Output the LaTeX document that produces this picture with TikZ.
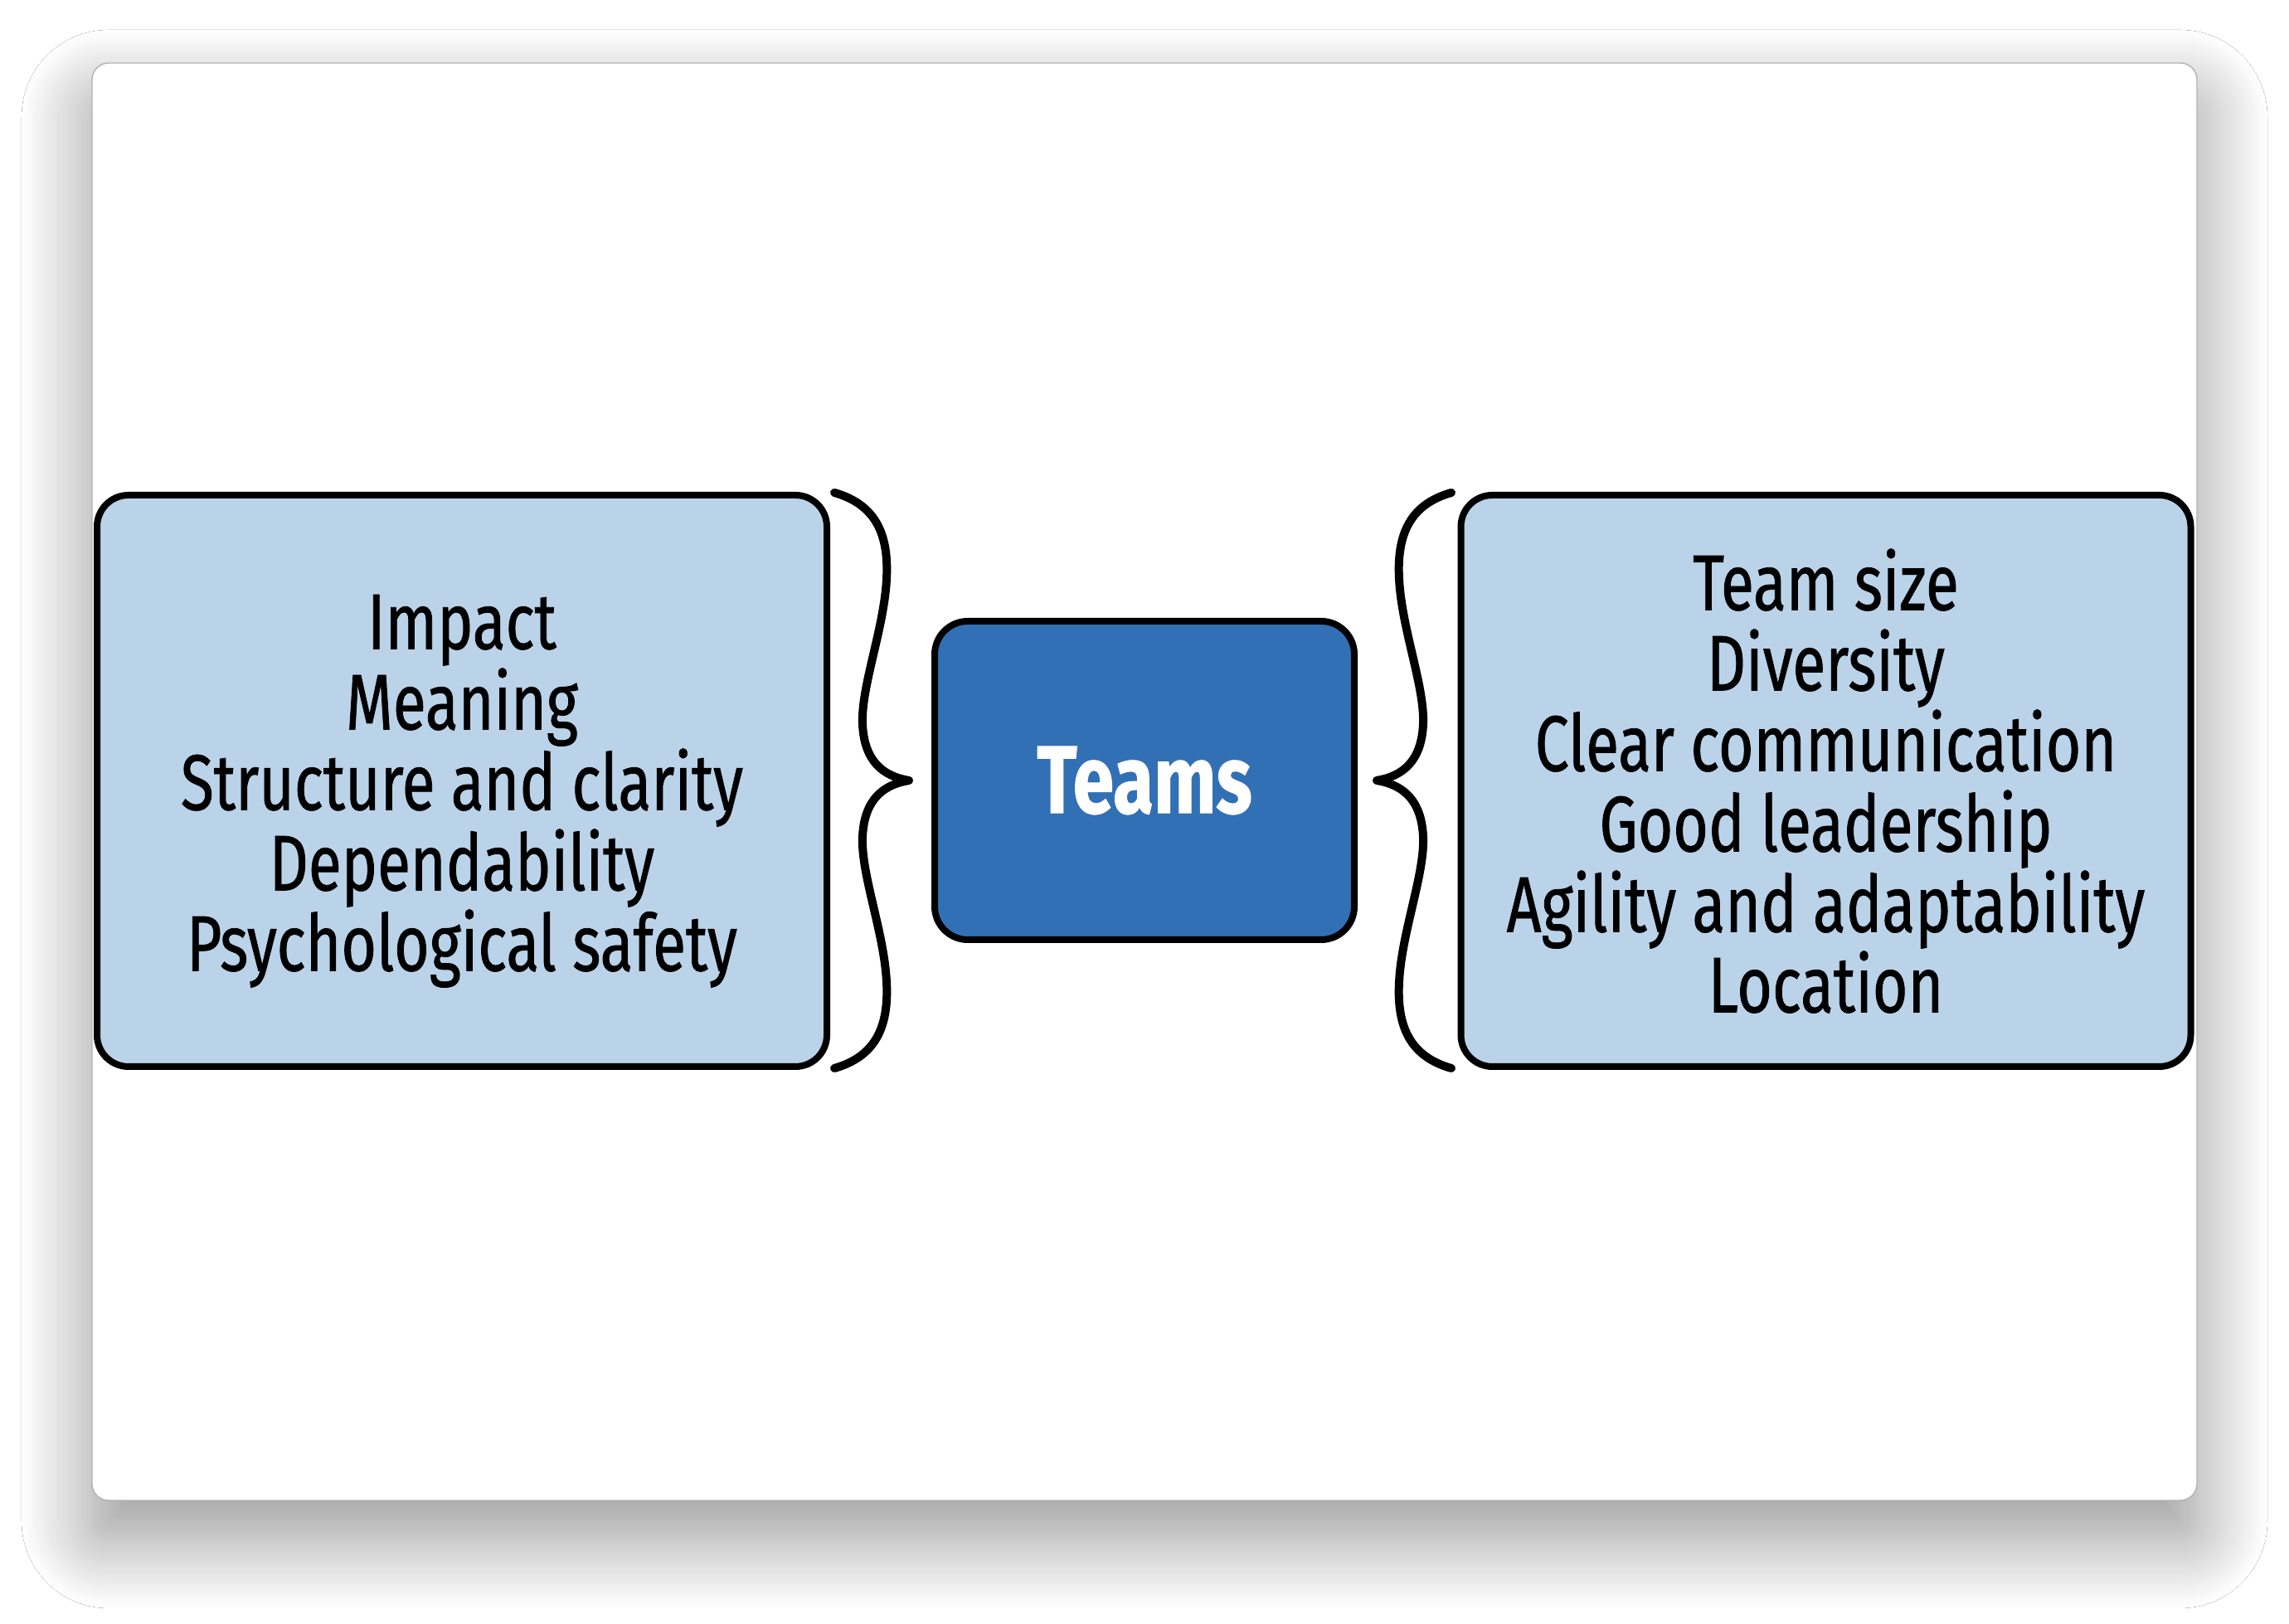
\documentclass[tikz,border=0pt]{standalone}
\usepackage{fontspec}
\setmainfont{Fira Sans}[FakeStretch=0.77,FakeBold=0.8]
\usepackage{xcolor}
\definecolor{Col1}{RGB}{186,211,233}
\definecolor{Col2}{RGB}{50,112,182}
\usepackage{tikz}
\usetikzlibrary{shadows.blur}
\tikzstyle{Card}=[fill=white,draw=black!30,line width=0.4pt,rounded corners=0.2cm,
blur shadow={shadow xshift=0cm,shadow yshift=-0.45cm,shadow blur radius=0.85cm,
shadow blur steps=30,shadow opacity=42}]
\tikzstyle{Factor}=[rectangle,draw=black,fill=Col1,line width=0.08cm,
rounded corners=0.38cm,minimum width=8.8cm,minimum height=6.89cm,inner sep=0pt,
align=center,font=\fontsize{27}{27.6}\selectfont]
\tikzstyle{Core}=[rectangle,draw=black,fill=Col2,line width=0.08cm,
rounded corners=0.4cm,minimum width=5.06cm,minimum height=3.84cm,inner sep=0pt,
text=white,font=\fontsize{33}{36}\selectfont\bfseries]
\tikzstyle{Brace}=[draw=black,line width=0.1cm,line cap=round,line join=round]

\begin{document}
\begin{tikzpicture}
        \fill[white](0,0)rectangle(27.6,19.58);
        \useasboundingbox(0,0)rectangle(27.6,19.58);
        \path[Card](1.11,1.49)rectangle(26.49,18.82);
        \node[Factor](Lbox)at(5.57,10.165){\rule{0pt}{0.9cm}Impact\\Meaning\\
            Structure and clarity\\Dependability\\Psychological safety};
        \node[Core](Tbox)at(13.80,10.17){Teams};
        \node[Factor](Rbox)at(22.015,10.165){Team size\\Diversity\\Clear communication\\
            Good leadership\\Agility and adaptability\\Location};
        % braces
        \draw[Brace](10.06,13.64)..controls(10.55,13.50)and(10.72,13.15)..(10.69,12.60)
            ..controls(10.66,12.00)and(10.38,11.30)..(10.40,10.85)
            ..controls(10.42,10.40)and(10.65,10.22)..(10.96,10.17)
            ..controls(10.65,10.12)and(10.42,9.94)..(10.40,9.49)
            ..controls(10.38,9.04)and(10.66,8.34)..(10.69,7.74)
            ..controls(10.72,7.19)and(10.55,6.84)..(10.06,6.70);
        \draw[Brace](17.50,13.64)..controls(17.01,13.50)and(16.84,13.15)..(16.87,12.60)
            ..controls(16.90,12.00)and(17.18,11.30)..(17.16,10.85)
            ..controls(17.14,10.40)and(16.91,10.22)..(16.60,10.17)
            ..controls(16.91,10.12)and(17.14,9.94)..(17.16,9.49)
            ..controls(17.18,9.04)and(16.90,8.34)..(16.87,7.74)
            ..controls(16.84,7.19)and(17.01,6.84)..(17.50,6.70);
    \end{tikzpicture}
\end{document}
